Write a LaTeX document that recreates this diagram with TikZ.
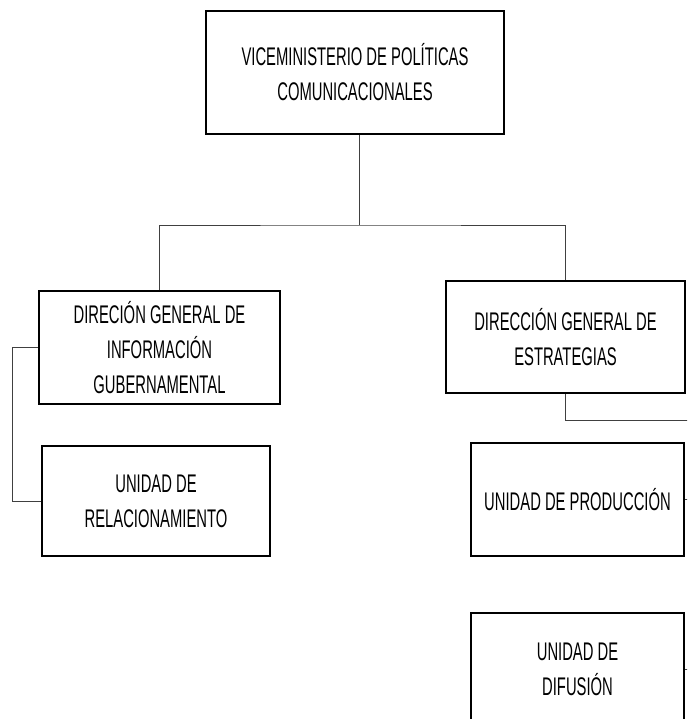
\documentclass[tikz,border=0pt]{standalone}
\usepackage{fontspec}
\setmainfont[FakeStretch=0.58]{Liberation Sans}
\usetikzlibrary{positioning}

\begin{document}
\begin{tikzpicture}[x=1pt,y=-1pt,
  box/.style={draw,line width=2pt,align=center,inner sep=0pt,font=\fontsize{25.5}{35}\selectfont},
  link/.style={draw=black!75,line width=1pt}]
\useasboundingbox (0,0) rectangle (687,719);
\clip (0,0) rectangle (687,719);

\node[box,minimum width=298pt,minimum height=123pt] (V) at (355,72.5) {VICEMINISTERIO DE POLÍTICAS\\COMUNICACIONALES};

\node[box,minimum width=241pt,minimum height=113pt] (DI) at (159.5,347.5) {DIRECIÓN GENERAL DE\\INFORMACIÓN\\GUBERNAMENTAL};

\node[box,minimum width=239pt,minimum height=112pt] (DE) at (565.5,337) {DIRECCIÓN GENERAL DE\\ESTRATEGIAS};

\node[box,minimum width=228pt,minimum height=110pt] (UR) at (156,501) {UNIDAD DE\\RELACIONAMIENTO};

\node[box,minimum width=213pt,minimum height=113pt] (UP) at (577.5,499.5) {UNIDAD DE PRODUCCIÓN};

\node[box,minimum width=213pt,minimum height=113pt] (UD) [below=55pt of UP] {UNIDAD DE\\DIFUSIÓN};

\coordinate (bus) at (359,225);
\coordinate (edge) at (700,420);

\draw [link] (V.south -| bus) -- (bus);
\draw [link] (DI.north) |- (bus) -| (DE.north);
\draw [link] (DI.west) -- ++(-26,0) |- (UR.west);
\draw [link] (DE.south) |- (edge);
\draw [link] (UP.east) -- (UP.east -| edge);
\draw [link] (UD.east) -- (UD.east -| edge);

\end{tikzpicture}
\end{document}
